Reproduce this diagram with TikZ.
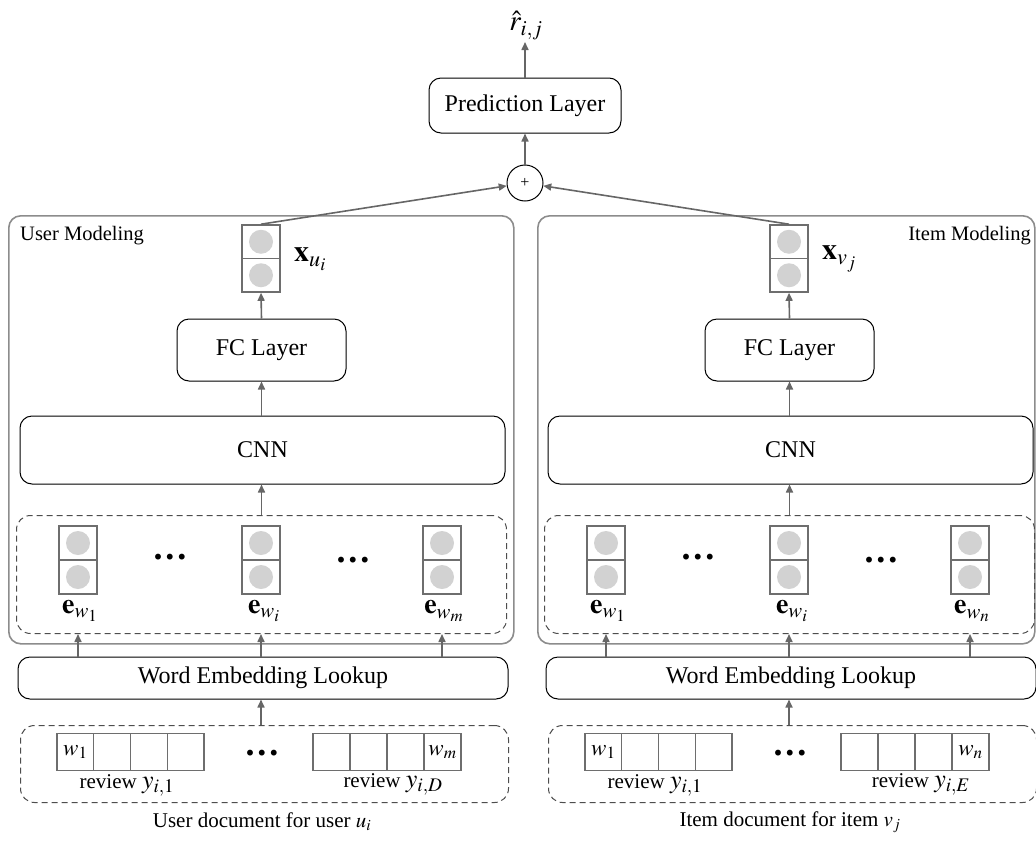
\documentclass[tikz,border=0pt]{standalone}
\usepackage{mathptmx}
\usepackage[no-math]{fontspec}
\setmainfont{Liberation Serif}
\usetikzlibrary{arrows.meta}

\definecolor{arrowgray}{HTML}{666666}
\definecolor{framegray}{HTML}{8C8C8C}
\definecolor{cellgray}{HTML}{6E6E6E}
\definecolor{dashgray}{HTML}{4D4D4D}
\definecolor{unitfill}{HTML}{D2D2D2}

\newcommand\fs[1]{\fontsize{#1}{#1}\selectfont}

% a two-unit vector: name, centre x, top y, cell height
\newcommand\unitvec[4]{%
  \node[cell, minimum height=#4] (#1-t) at (#2,{#3+#4/2}) {};
  \node[cell, minimum height=#4] (#1-b) at (#2,{#3+3*#4/2}) {};
  \node[unit] at (#1-t.center) {};
  \node[unit] at (#1-b.center) {};
}

% one column: prefix, x shift, last word, last review index, latent label, caption
\newcommand\modelside[6]{%
  \begin{scope}[xshift=#2]
    \unitvec{#1x}{261}{225}{33.5}
    \node[lab, anchor=west, font=\fs{30}] (#1xl) at (293,259) {$\mathbf{x}_{#5}$};
    \node[layer, minimum width=169, minimum height=62] (#1fc) at (261.5,350) {FC Layer};
    \node[layer, minimum width=485, minimum height=68] (#1cnn) at (262.5,450) {CNN};
    \node[dashbox, anchor=north west, minimum width=490, minimum height=118] (#1emb) at (16,515) {};
    \unitvec{#1e1}{78}{526}{34}
    \unitvec{#1ei}{261}{526}{34}
    \unitvec{#1em}{442}{526}{34}
    \node[dots] (#1d1) at (170,557) {.\hspace{3pt}.\hspace{3pt}.};
    \node[dots] (#1d2) at (353,560) {.\hspace{3pt}.\hspace{3pt}.};
    \node[lab, font=\fs{28}] (#1l1) at (80,611) {$\mathbf{e}_{w_1}$};
    \node[lab, font=\fs{28}] (#1li) at (264,611) {$\mathbf{e}_{w_i}$};
    \node[lab, font=\fs{28}] (#1lm) at (444,611) {$\mathbf{e}_{w_#3}$};
    \node[layer, minimum width=490, minimum height=42] (#1wel) at (263,678) {Word Embedding Lookup};
    \node[dashbox, anchor=north west, minimum width=488, minimum height=77] (#1doc) at (20,725) {};
    \foreach \k in {0,1,2,3} {
      \node[word] (#1a\k) at ({75.4+36.75*\k},752) {};
      \node[word] (#1b\k) at ({331.5+37*\k},752) {};
    }
    \node[lab, font=\fs{23}] at (#1a0) {$w_1$};
    \node[lab, font=\fs{23}] at (#1b3) {$w_#3$};
    \node[dots] (#1d3) at (262,753) {.\hspace{3pt}.\hspace{3pt}.};
    \node[lab, font=\fs{21}] (#1r1) at (127,785) {review {\fs{26}$y_{i,1}$}};
    \node[lab, font=\fs{21}] (#1r2) at (393,784) {review {\fs{26}$y_{i,#4}$}};
    \node[lab, font=\fs{21}] (#1cap) at (262,822) {#6};
    % connectors
    \draw[arr] (#1fc.north) -- (#1x-b.south);
    \draw[arr] (#1cnn.north -| #1fc.north) -- (#1fc.south);
    \draw[arr] (#1emb.north -| #1fc.north) -- (#1cnn.south -| #1fc.north);
    \draw[arr] (#1wel.north -| #1e1-b.south) -- (#1emb.south -| #1e1-b.south);
    \draw[arr] (#1wel.north -| #1ei-b.south) -- (#1emb.south -| #1ei-b.south);
    \draw[arr] (#1wel.north -| #1em-b.south) -- (#1emb.south -| #1em-b.south);
    \draw[arr] (#1doc.north -| #1ei-b.south) -- (#1wel.south -| #1ei-b.south);
  \end{scope}
}

\begin{document}
\begin{tikzpicture}[x=1pt, y=-1pt,
  layer/.style={draw=black, line width=1pt, rounded corners=12, fill=white,
    inner sep=0, font=\fs{24}},
  frame/.style={draw=framegray, line width=1.6pt, rounded corners=12},
  dashbox/.style={draw=dashgray, line width=1pt, dashed, dash pattern=on 6pt off 4pt,
    rounded corners=14, inner sep=0},
  cell/.style={draw=cellgray, line width=1.6pt, fill=white, minimum width=38, inner sep=0},
  unit/.style={circle, fill=unitfill, minimum size=24, inner sep=0},
  word/.style={draw=cellgray, line width=1.4pt, minimum width=36.75, minimum height=37, inner sep=0},
  lab/.style={inner sep=1},
  dots/.style={inner sep=0, font=\fs{36}\bfseries},
  arr/.style={draw=arrowgray, line width=1.6pt, -{Triangle[length=8pt, width=7pt]}}]

  \useasboundingbox (0,0) rectangle (1036,841);

  % modeling frames
  \node[frame, anchor=north west, minimum width=505, minimum height=428] (uframe) at (8,215) {};
  \node[frame, anchor=north west, minimum width=497, minimum height=428] (vframe) at (537,215) {};
  \node[lab, anchor=base west, font=\fs{20.5}] (utitle) at (19,240) {User Modeling};
  \node[lab, anchor=base east, font=\fs{20.5}] (vtitle) at (1032,240) {Item Modeling};

  \modelside{u}{0}{m}{D}{u_i}{User document for user $u_i$}
  \modelside{v}{528}{n}{E}{v_j}{Item document for item $v_j$}

  % fusion and prediction
  \node[circle, draw=black, line width=1pt, minimum size=36, inner sep=0, fill=white, font=\fs{16}] (plus) at (525,183) {+};
  \node[layer, minimum width=192, minimum height=55] (pred) at (525,105.5) {Prediction Layer};
  \node[lab, anchor=south, font=\fs{29}, inner sep=2] (rhat) at (526,42) {$\hat{r}_{i,j}$};

  \draw[arr] (ux-t.north) -- (plus);
  \draw[arr] (vx-t.north) -- (plus);
  \draw[arr] (plus) -- (pred);
  \draw[arr] (pred.north) -- (pred.north |- rhat.south);
\end{tikzpicture}
\end{document}
